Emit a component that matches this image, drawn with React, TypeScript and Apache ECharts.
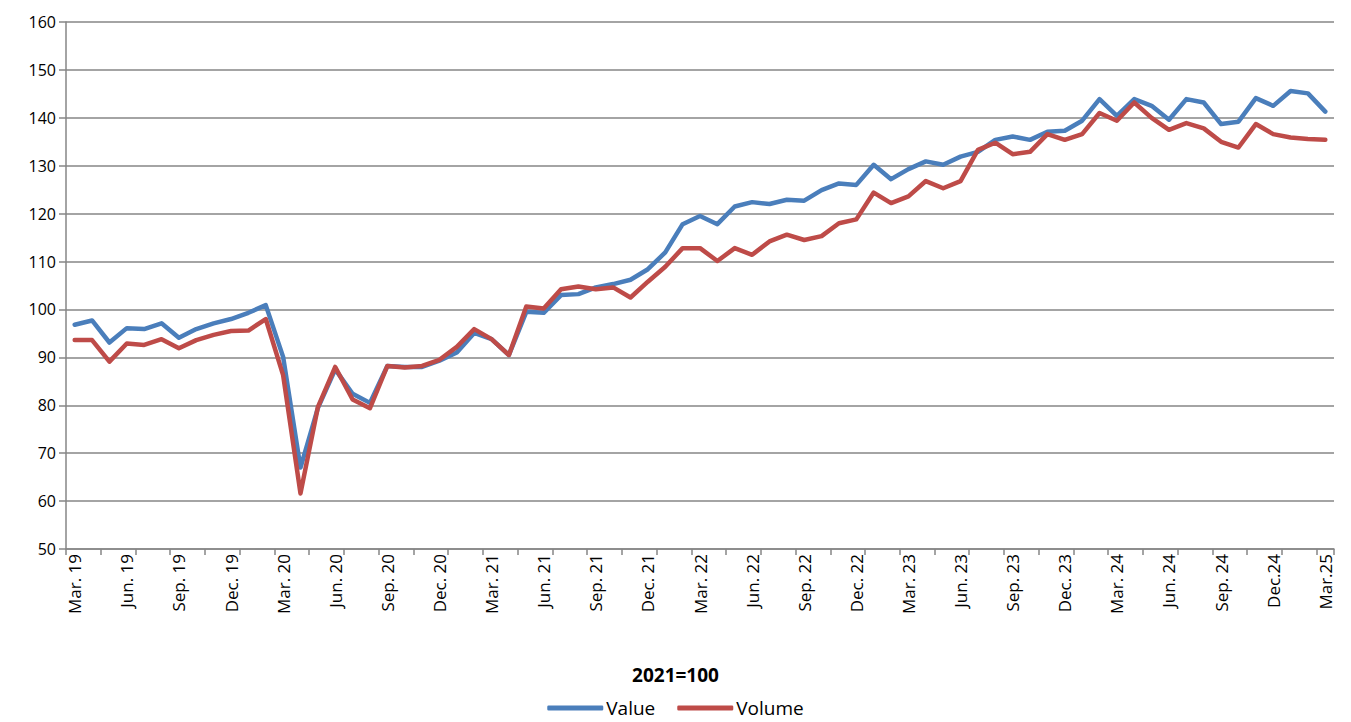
import React, { useEffect, useRef } from "react";
import * as echarts from "echarts";

const categories: string[] = [
  "Mar. 19", "Apr. 19", "May. 19", "Jun. 19", "Jul. 19", "Aug. 19", "Sep. 19", "Oct. 19", "Nov. 19", "Dec. 19",
  "Jan. 20", "Feb. 20", "Mar. 20", "Apr. 20", "May. 20", "Jun. 20", "Jul. 20", "Aug. 20", "Sep. 20", "Oct. 20",
  "Nov. 20", "Dec. 20", "Jan. 21", "Feb. 21", "Mar. 21", "Apr. 21", "May. 21", "Jun. 21", "Jul. 21", "Aug. 21",
  "Sep. 21", "Oct. 21", "Nov. 21", "Dec. 21", "Jan. 22", "Feb. 22", "Mar. 22", "Apr. 22", "May. 22", "Jun. 22",
  "Jul. 22", "Aug. 22", "Sep. 22", "Oct. 22", "Nov. 22", "Dec. 22", "Jan. 23", "Feb. 23", "Mar. 23", "Apr. 23",
  "May. 23", "Jun. 23", "Jul. 23", "Aug. 23", "Sep. 23", "Oct. 23", "Nov. 23", "Dec. 23", "Jan. 24", "Feb. 24",
  "Mar. 24", "Apr. 24", "May. 24", "Jun. 24", "Jul. 24", "Aug. 24", "Sep. 24", "Oct. 24", "Nov. 24", "Dec.24",
  "Jan.25", "Feb.25", "Mar.25",
];

const valueSeries: number[] = [
  96.8, 97.7, 93.1, 96.1, 95.9, 97.1, 94.1, 95.9, 97.1, 98.0,
  99.3, 100.9, 90.1, 67.0, 79.4, 87.5, 82.4, 80.5, 88.2, 88.0,
  88.0, 89.3, 91.0, 95.1, 93.8, 90.5, 99.5, 99.3, 103.0, 103.2,
  104.6, 105.3, 106.2, 108.4, 111.9, 117.8, 119.5, 117.8, 121.5, 122.4,
  122.0, 122.9, 122.7, 124.9, 126.3, 126.0, 130.2, 127.2, 129.3, 130.9,
  130.2, 131.9, 132.9, 135.4, 136.1, 135.4, 137.1, 137.3, 139.4, 143.9,
  140.4, 143.9, 142.5, 139.6, 143.9, 143.2, 138.7, 139.2, 144.1, 142.5,
  145.6, 145.1, 141.3,
];

const volumeSeries: number[] = [
  93.6, 93.6, 89.1, 92.9, 92.6, 93.8, 91.9, 93.6, 94.7, 95.5,
  95.6, 98.0, 86.3, 61.6, 79.6, 88.0, 81.2, 79.4, 88.2, 87.9,
  88.2, 89.5, 92.2, 95.9, 93.8, 90.5, 100.6, 100.2, 104.2, 104.8,
  104.2, 104.6, 102.5, 105.8, 108.9, 112.8, 112.8, 110.1, 112.8, 111.4,
  114.2, 115.6, 114.5, 115.3, 118.0, 118.8, 124.4, 122.2, 123.6, 126.8,
  125.3, 126.8, 133.3, 134.8, 132.4, 132.9, 136.6, 135.4, 136.6, 141.0,
  139.4, 143.2, 140.0, 137.5, 138.9, 137.8, 135.0, 133.8, 138.7, 136.6,
  135.9, 135.6, 135.4,
];

const seriesNames = ["Value", "Volume"];
const subtitle = "2021=100";

export default function App() {
  const ref = useRef<HTMLDivElement>(null);
  useEffect(() => {
    if (!ref.current) return;
    const chart = echarts.init(ref.current, undefined, { renderer: "svg" });
    const font = "'Open Sans', 'Liberation Sans', Arial, sans-serif";
    const grey = "#868686";
    chart.setOption({
      animation: false,
      backgroundColor: "#ffffff",
      textStyle: { fontFamily: font },
      title: {
        text: subtitle,
        left: "center",
        top: 660,
        textStyle: { fontFamily: font, fontSize: 19, fontWeight: "bold", color: "#000" },
      },
      legend: {
        data: seriesNames,
        left: "center",
        top: 697,
        padding: 0,
        itemWidth: 56,
        itemHeight: 5,
        itemGap: 22,
        icon: "roundRect",
        textStyle: { fontFamily: font, fontSize: 19, lineHeight: 22, color: "#000", padding: [0, 0, 0, -2] },
      },
      grid: { left: 66, right: 17, top: 22, bottom: 173, containLabel: false },
      xAxis: {
        type: "category",
        data: categories,
        boundaryGap: true,
        axisLine: { show: true, lineStyle: { color: grey, width: 1.5 } },
        axisTick: { show: true, interval: 1, length: 6, lineStyle: { color: grey, width: 1.5 } },
        axisLabel: {
          interval: 2,
          rotate: 90,
          margin: 5,
          fontFamily: font,
          fontSize: 17,
          color: "#000",
        },
        splitLine: { show: false },
      },
      yAxis: {
        type: "value",
        min: 50,
        max: 160,
        interval: 10,
        axisLine: { show: true, lineStyle: { color: grey, width: 1.5 } },
        axisTick: { show: true, length: 7, lineStyle: { color: grey, width: 1.5 } },
        axisLabel: { fontFamily: font, fontSize: 16, color: "#000", margin: 10 },
        splitLine: { show: true, lineStyle: { color: grey, width: 1.5 } },
      },
      series: [
        {
          name: seriesNames[0],
          type: "line",
          data: valueSeries,
          symbol: "none",
          lineStyle: { color: "#4A7EBB", width: 4.5, cap: "round", join: "round" },
          itemStyle: { color: "#4A7EBB" },
        },
        {
          name: seriesNames[1],
          type: "line",
          data: volumeSeries,
          symbol: "none",
          lineStyle: { color: "#BE4B48", width: 4.5, cap: "round", join: "round" },
          itemStyle: { color: "#BE4B48" },
        },
      ],
    });
    return () => chart.dispose();
  }, []);
  return (
    <div
      ref={ref}
      style={{ position: "fixed", left: 0, top: 0, width: 1351, height: 722, background: "#fff" }}
    />
  );
}
